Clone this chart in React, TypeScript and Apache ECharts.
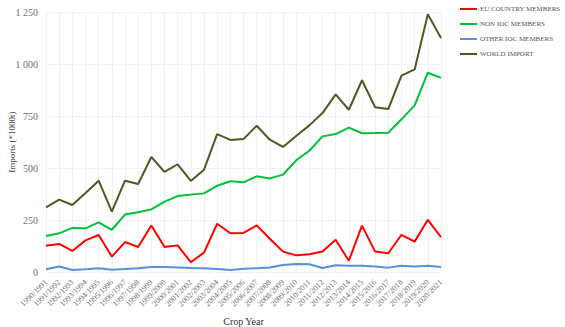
import React, { useEffect, useRef } from "react";
import * as echarts from "echarts";

const categories = [
  "1990/1991", "1991/1992", "1992/1993", "1993/1994", "1994/1995", "1995/1996",
  "1996/1997", "1997/1998", "1998/1999", "1999/2000", "2000/2001", "2001/2002",
  "2002/2003", "2003/2004", "2004/2005", "2005/2006", "2006/2007", "2007/2008",
  "2008/2009", "2009/2010", "2010/2011", "2011/2012", "2012/2013", "2013/2014",
  "2014/2015", "2015/2016", "2016/2017", "2017/2018", "2018/2019", "2019/2020",
  "2020/2021",
];

const euCountryMembers = [
  126, 135, 101, 152, 178, 74, 144, 120, 224, 120, 128, 47, 93, 232, 186, 188,
  224, 160, 98, 80, 85, 99, 155, 54, 223, 98, 90, 179, 146, 251, 168,
];

const nonIocMembers = [
  173, 186, 212, 210, 239, 203, 276, 287, 301, 338, 365, 372, 378, 415, 436,
  431, 460, 450, 468, 537, 583, 652, 663, 694, 667, 668, 670, 734, 801, 958, 933,
];

const otherIocMembers = [
  13, 26, 10, 13, 18, 11, 14, 18, 24, 24, 22, 19, 18, 14, 10, 16, 18, 22, 34,
  38, 37, 19, 32, 30, 30, 27, 21, 30, 27, 30, 24,
];

const worldImport = [
  311, 348, 322, 380, 439, 290, 439, 423, 553, 481, 518, 438, 492, 663, 635,
  639, 703, 636, 601, 654, 705, 764, 854, 780, 922, 792, 784, 944, 974, 1239,
  1125,
];

const seriesNames = [
  "EU COUNTRY MEMBERS",
  "NON IOC MEMBERS",
  "OTHER IOC MEMBERS",
  "WORLD IMPORT",
];
const seriesColors = ["#ff0000", "#00c03a", "#5a8ede", "#4d5a22"];
const seriesData = [euCountryMembers, nonIocMembers, otherIocMembers, worldImport];

const FONT = "Liberation Serif, Times New Roman, serif";

export default function App() {
  const ref = useRef<HTMLDivElement>(null);

  useEffect(() => {
    document.body.style.margin = "0";
    if (!ref.current) return;
    const chart = echarts.init(ref.current, undefined, { renderer: "svg" });
    chart.setOption({
      animation: false,
      backgroundColor: "#ffffff",
      textStyle: { fontFamily: FONT },
      grid: {
        left: 46,
        right: 124,
        top: 12,
        bottom: 55,
        containLabel: false,
        outerBoundsMode: "none",
      },
      legend: {
        orient: "vertical",
        left: 460,
        top: 4,
        padding: 0,
        icon: "rect",
        itemWidth: 17,
        itemHeight: 2,
        itemGap: 5,
        data: seriesNames,
        textStyle: {
          fontFamily: FONT,
          fontSize: 7,
          color: "#555",
          lineHeight: 10,
          padding: [0, 0, 0, -2],
        },
      },
      xAxis: {
        type: "category",
        data: categories,
        boundaryGap: false,
        name: "Crop Year",
        nameLocation: "middle",
        nameGap: 44,
        nameMoveOverlap: false,
        nameTextStyle: { fontFamily: FONT, fontSize: 10, color: "#333" },
        axisLine: { show: false },
        axisTick: { show: false },
        axisLabel: {
          interval: 0,
          rotate: 45,
          fontFamily: FONT,
          fontSize: 8,
          color: "#6f6f6f",
          margin: 9,
        },
        splitLine: { show: true, lineStyle: { color: "#f2f2f2", width: 1 } },
      },
      yAxis: {
        type: "value",
        min: 0,
        max: 1250,
        interval: 250,
        name: "Imports (*1000t)",
        nameLocation: "middle",
        nameGap: 30,
        nameMoveOverlap: false,
        nameTextStyle: { fontFamily: FONT, fontSize: 9, color: "#444" },
        axisLine: { show: false },
        axisTick: { show: false },
        axisLabel: {
          fontFamily: FONT,
          fontSize: 10,
          color: "#6f6f6f",
          margin: 8,
          formatter: (v: number) =>
            v >= 1000
              ? Math.floor(v / 1000) + " " + String(v % 1000).padStart(3, "0")
              : String(v),
        },
        splitLine: { show: true, lineStyle: { color: "#f2f2f2", width: 1 } },
      },
      series: seriesNames.map((name, i) => ({
        name,
        type: "line",
        data: seriesData[i],
        showSymbol: false,
        symbol: "none",
        lineStyle: { color: seriesColors[i], width: 2 },
        itemStyle: { color: seriesColors[i] },
        z: 2 + i,
      })),
    });
    return () => chart.dispose();
  }, []);

  return (
    <div
      ref={ref}
      style={{ position: "absolute", left: 0, top: 0, width: 565, height: 327 }}
    />
  );
}
